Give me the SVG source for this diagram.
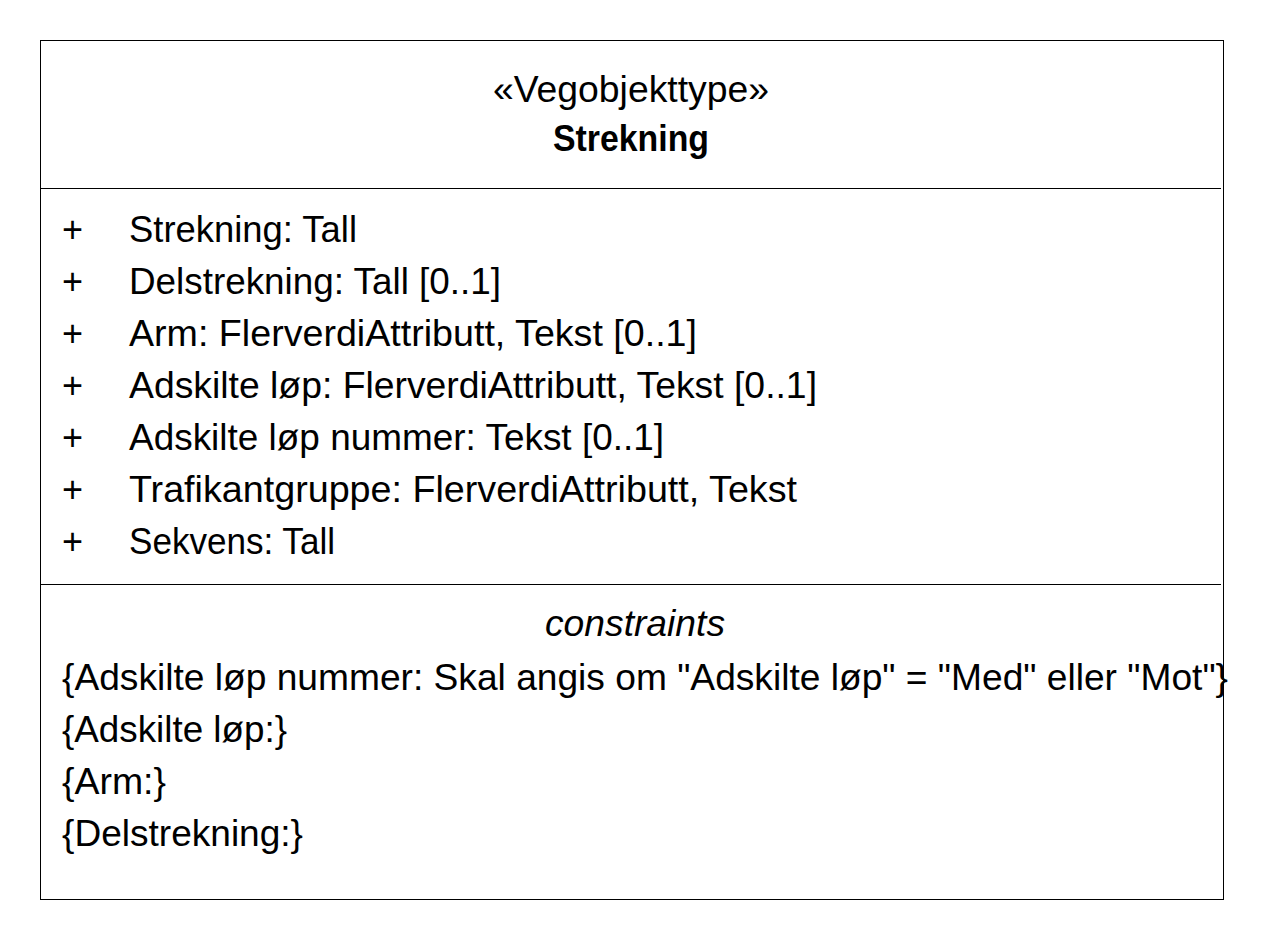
<svg xmlns="http://www.w3.org/2000/svg" width="1264" height="940" viewBox="0 0 1264 940">
<style>
.t{font-family:"Liberation Sans",Arial,sans-serif;font-size:36px;fill:#000}
.b{font-weight:bold}
.i{font-style:italic}
.ln{stroke:#000;stroke-width:1;fill:none}
</style>
<rect x="0" y="0" width="1264" height="940" fill="#fff"/>
<g id="class-strekning">
<rect class="ln" x="40.5" y="40.5" width="1183" height="859" fill="#fff"/>
<line class="ln" x1="40.5" y1="188.5" x2="1221" y2="188.5"/>
<line class="ln" x1="40.5" y1="584.5" x2="1221" y2="584.5"/>
<text class="t" x="493" y="102" textLength="276" lengthAdjust="spacingAndGlyphs">«Vegobjekttype»</text>
<text class="t b" x="553" y="151" textLength="156" lengthAdjust="spacingAndGlyphs">Strekning</text>
<g id="attributes">
<text class="t" x="62" y="242">+</text>
<text class="t" x="129" y="242" textLength="228" lengthAdjust="spacingAndGlyphs">Strekning: Tall</text>
<text class="t" x="62" y="294">+</text>
<text class="t" x="129" y="294" textLength="372" lengthAdjust="spacingAndGlyphs">Delstrekning: Tall [0..1]</text>
<text class="t" x="62" y="346">+</text>
<text class="t" x="129" y="346" textLength="568" lengthAdjust="spacingAndGlyphs">Arm: FlerverdiAttributt, Tekst [0..1]</text>
<text class="t" x="62" y="398">+</text>
<text class="t" x="129" y="398" textLength="688" lengthAdjust="spacingAndGlyphs">Adskilte løp: FlerverdiAttributt, Tekst [0..1]</text>
<text class="t" x="62" y="450">+</text>
<text class="t" x="129" y="450" textLength="535" lengthAdjust="spacingAndGlyphs">Adskilte løp nummer: Tekst [0..1]</text>
<text class="t" x="62" y="502">+</text>
<text class="t" x="129" y="502" textLength="668" lengthAdjust="spacingAndGlyphs">Trafikantgruppe: FlerverdiAttributt, Tekst</text>
<text class="t" x="62" y="554">+</text>
<text class="t" x="129" y="554" textLength="206" lengthAdjust="spacingAndGlyphs">Sekvens: Tall</text>
</g>
<g id="constraints">
<text class="t i" x="545" y="636" textLength="180" lengthAdjust="spacingAndGlyphs">constraints</text>
<text class="t" x="62" y="690" textLength="1166" lengthAdjust="spacingAndGlyphs">{Adskilte løp nummer: Skal angis om "Adskilte løp" = "Med" eller "Mot"}</text>
<text class="t" x="62" y="742" textLength="225" lengthAdjust="spacingAndGlyphs">{Adskilte løp:}</text>
<text class="t" x="62" y="794" textLength="104" lengthAdjust="spacingAndGlyphs">{Arm:}</text>
<text class="t" x="62" y="846" textLength="241" lengthAdjust="spacingAndGlyphs">{Delstrekning:}</text>
</g>
</g>
<g id="connectors"/>
</svg>
